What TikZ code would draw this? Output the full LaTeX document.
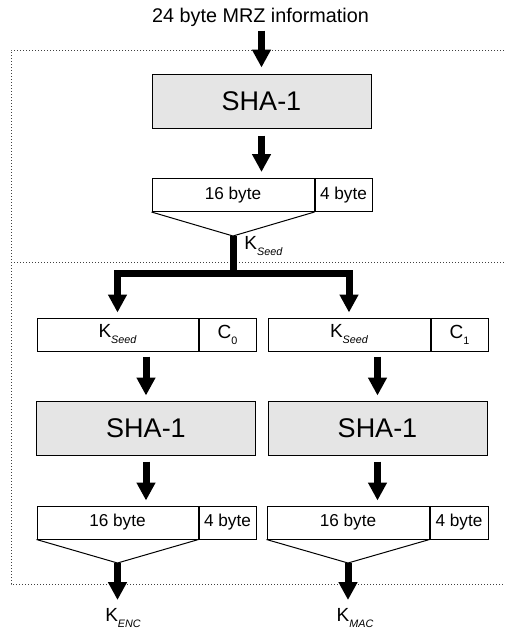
\documentclass[tikz,border=0pt]{standalone}
\usepackage{fontspec}
\setmainfont{Liberation Sans}
\usetikzlibrary{arrows.meta}

\newcommand{\lowsub}[1]{\raisebox{-0.6ex}{\fontsize{5.4}{6}\selectfont #1}}

\begin{document}
\begin{tikzpicture}[x=0.5pt,y=0.5pt,
    shabox/.style={draw, line width=0.5pt, fill=black!10, inner sep=0pt, minimum width=109.5pt, minimum height=27pt, font=\fontsize{13.5}{15}\selectfont},
    bytecell/.style={draw, line width=0.5pt, inner sep=0pt, minimum height=16.5pt, font=\fontsize{8.6}{10}\selectfont},
    keylabel/.style={inner sep=0pt, font=\fontsize{9.5}{11}\selectfont},
    fatarrow/.style={line width=3.5pt, -{Triangle[width=9pt,length=9pt]}},
    funnel/.style={line width=0.5pt},
    frame/.style={densely dotted, line width=0.5pt, black!75}]
   \useasboundingbox (0,0) rectangle (504,-632);
   % dotted frame
   \draw[frame] (510,-50) -- (11,-50) -- (11,-584) -- (510,-584);
   \draw[frame] (11,-262) -- (510,-262);
   % seed part
   \node[anchor=base, inner sep=0pt, font=\fontsize{9.9}{11}\selectfont] (mrz) at (260.5,-22) {24 byte MRZ information};
   \node[shabox] (sha) at (261.5,-101) {SHA-1};
   \node[bytecell, minimum width=81pt] (hash) at (233,-195) {16 byte};
   \node[bytecell, minimum width=28.5pt, anchor=west] (hashrest) at (hash.east) {4 byte};
   \coordinate (seedtip) at (233,-236);
   \coordinate (fork) at (233,-273);
   \draw[funnel] (hash.south west) -- (seedtip) -- (hash.south east);
   \node[keylabel, anchor=west] (kseed) at (244,-246) {K\lowsub{\itshape Seed}};
   % two branches
   \node[bytecell, keylabel, draw, minimum height=16.5pt, minimum width=80.5pt] (seedA) at (117.5,-334.5) {K\lowsub{\itshape Seed}};
   \node[bytecell, keylabel, draw, minimum height=16.5pt, minimum width=28.5pt, anchor=west] (cA) at (seedA.east) {C\lowsub{0}};
   \node[bytecell, keylabel, draw, minimum height=16.5pt, minimum width=81pt] (seedB) at (349,-334.5) {K\lowsub{\itshape Seed}};
   \node[bytecell, keylabel, draw, minimum height=16.5pt, minimum width=28.5pt, anchor=west] (cB) at (seedB.east) {C\lowsub{1}};
   \node[shabox] (shaA) at (146,-428) {SHA-1};
   \node[shabox] (shaB) at (377.5,-428) {SHA-1};
   \node[bytecell, minimum width=80.5pt] (encA) at (117.5,-522.5) {16 byte};
   \node[bytecell, minimum width=28.5pt, anchor=west] (restA) at (encA.east) {4 byte};
   \node[bytecell, minimum width=81pt] (macB) at (348,-522.5) {16 byte};
   \node[bytecell, minimum width=29pt, anchor=west] (restB) at (macB.east) {4 byte};
   \coordinate (enctip) at (117.5,-563);
   \coordinate (mactip) at (348,-563);
   \draw[funnel] (encA.south west) -- (enctip) -- (encA.south east);
   \draw[funnel] (macB.south west) -- (mactip) -- (macB.south east);
   \node[keylabel, anchor=north] (kenc) at (123,-608) {K\lowsub{\itshape ENC}};
   \node[keylabel, anchor=north] (kmac) at (355,-608) {K\lowsub{\itshape MAC}};
   % arrows
   \draw[fatarrow, shorten <=2pt, shorten >=3pt] (mrz.south -| sha.north) -- (sha.north);
   \draw[fatarrow, shorten <=3.5pt, shorten >=3pt] (sha.south) -- (sha.south |- hash.north);
   \draw[fatarrow, line join=miter, shorten >=2.5pt] (seedtip) -- (fork) -| (seedA.north);
   \draw[fatarrow, line join=miter, shorten >=2.5pt] (fork) -| (seedB.north);
   \draw[fatarrow, shorten <=2.5pt, shorten >=2.5pt] (shaA.north |- seedA.south) -- (shaA.north);
   \draw[fatarrow, shorten <=2.5pt, shorten >=2.5pt] (shaB.north |- seedB.south) -- (shaB.north);
   \draw[fatarrow, shorten <=3pt, shorten >=2.5pt] (shaA.south) -- (shaA.south |- encA.north);
   \draw[fatarrow, shorten <=3pt, shorten >=2.5pt] (shaB.south) -- (shaB.south |- macB.north);
   \draw[fatarrow, shorten >=4pt] (enctip) -- (enctip |- kenc.north);
   \draw[fatarrow, shorten >=4pt] (mactip) -- (mactip |- kmac.north);
\end{tikzpicture}
\end{document}
